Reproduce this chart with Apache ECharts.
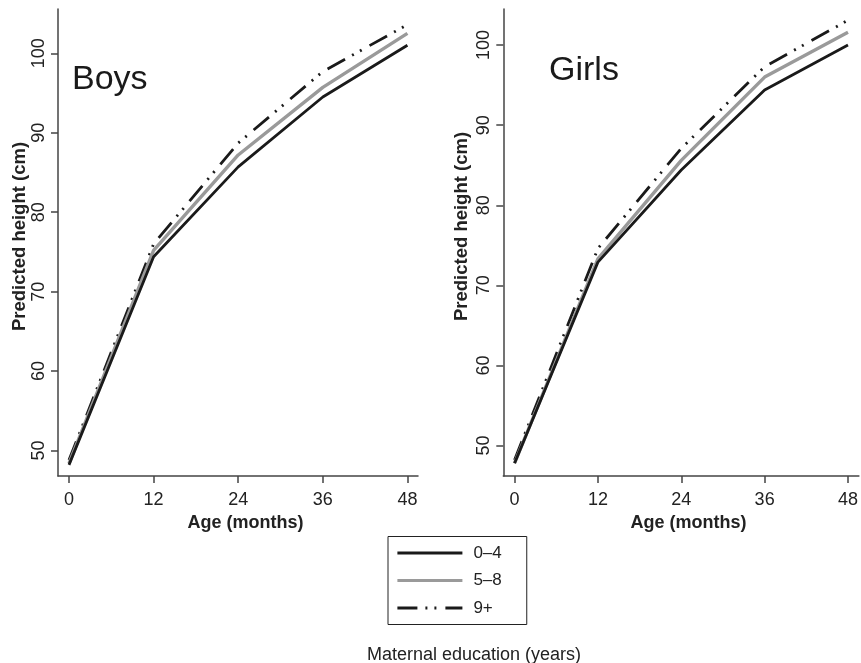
<!DOCTYPE html>
<html>
<head>
<meta charset="utf-8">
<script src="https://cdn.jsdelivr.net/npm/echarts@6/dist/echarts.min.js"></script>
<style>
html,body{margin:0;padding:0;background:#fff;}
#chart{width:861px;height:663px;}
</style>
</head>
<body>
<div id="chart"></div>
<script>
// ---- data ----
const ages = [0, 12, 24, 36, 48];
const xTicks = [0, 12, 24, 36, 48];
const yTicks = [50, 60, 70, 80, 90, 100];
const seriesNames = ['0\u20134', '5\u20138', '9+'];
const boys04 = [48.2, 74.4, 85.7, 94.5, 101.0];
const boys58 = [48.4, 75.2, 87.2, 95.7, 102.5];
const boys9p = [48.8, 76.0, 88.7, 97.7, 103.6];
const girls04 = [47.8, 72.9, 84.4, 94.4, 100.0];
const girls58 = [47.8, 73.3, 85.6, 96.0, 101.6];
const girls9p = [48.2, 74.6, 87.1, 97.3, 103.1];
const panelTitles = ['Boys', 'Girls'];
const xName = 'Age (months)';
const yName = 'Predicted height (cm)';
const legendTitle = 'Maternal education (years)';

const FONT = 'Liberation Sans, Arial, Helvetica, sans-serif';
const AX = '#444';
const TXT = '#222';

function pair(a) { return ages.map((x, i) => [x, a[i]]); }

const styles = [
  { color: '#1a1a1a', width: 2.8, type: 'solid' },
  { color: '#9a9a9a', width: 3.4, type: 'solid' },
  { color: '#1a1a1a', width: 2.8, type: [20, 8, 2, 7, 2, 9] }
];

function xAxis(idx, min, max) {
  return {
    type: 'value', gridIndex: idx, min: min, max: max,
    name: xName, nameLocation: 'middle', nameGap: 27,
    nameTextStyle: { fontFamily: FONT, fontSize: 18, fontWeight: 'bold', color: TXT, padding: [0, 0, 0, 15] },
    splitLine: { show: false },
    axisLine: { show: true, onZero: false, lineStyle: { color: AX, width: 1.5 } },
    axisTick: { show: true, length: 7, lineStyle: { color: AX, width: 1.5 }, customValues: xTicks },
    axisLabel: { fontFamily: FONT, fontSize: 18, color: TXT, margin: 15, customValues: xTicks }
  };
}
function yAxis(idx, min, max, gap, pad) {
  return {
    type: 'value', gridIndex: idx, min: min, max: max,
    name: yName, nameLocation: 'middle', nameGap: gap, nameRotate: 90,
    nameTextStyle: { fontFamily: FONT, fontSize: 18.5, fontWeight: 'bold', color: TXT, padding: [0, 0, 0, pad] },
    splitLine: { show: false },
    axisLine: { show: true, onZero: false, lineStyle: { color: AX, width: 1.5 } },
    axisTick: { show: true, length: 7, lineStyle: { color: AX, width: 1.5 }, customValues: yTicks },
    axisLabel: { fontFamily: FONT, fontSize: 18, color: TXT, rotate: 90, margin: 10, customValues: yTicks }
  };
}

const panels = [
  [boys04, boys58, boys9p],
  [girls04, girls58, girls9p]
];
const series = [];
panels.forEach((p, gi) => {
  p.forEach((d, si) => {
    series.push({
      name: seriesNames[si], type: 'line', xAxisIndex: gi, yAxisIndex: gi,
      data: pair(d), symbol: 'none', showSymbol: false, silent: true,
      lineStyle: styles[si], itemStyle: { color: styles[si].color },
      z: 3 - si
    });
  });
});

const chart = echarts.init(document.getElementById('chart'), null, { renderer: 'canvas' });
chart.setOption({
  animation: false,
  backgroundColor: '#fff',
  grid: [
    { left: 58, top: 9, width: 360, height: 467 },
    { left: 503.3, top: 9, width: 360, height: 467 }
  ],
  xAxis: [xAxis(0, -1.56, 49.5), xAxis(1, -1.62, 49.57)],
  yAxis: [yAxis(0, 46.8, 105.57, 28, 12), yAxis(1, 46.2, 104.5, 31.5, 32)],
  legend: {
    data: seriesNames, orient: 'vertical', left: 388, top: 536.5,
    itemWidth: 65, itemHeight: 17, itemGap: 10.5,
    padding: [8, 25, 8, 8],
    borderColor: '#222', borderWidth: 1, borderRadius: 0,
    selectedMode: false,
    itemStyle: { opacity: 0, borderWidth: 0 },
    lineStyle: { width: 2.8 },
    textStyle: { fontFamily: FONT, fontSize: 17, color: TXT, padding: [0, 0, 0, 6] }
  },
  graphic: [
    { type: 'text', left: 72, top: 63, style: { text: panelTitles[0], fontFamily: FONT, fontSize: 34, fill: '#1a1a1a' } },
    { type: 'text', left: 549, top: 54, style: { text: panelTitles[1], fontFamily: FONT, fontSize: 34, fill: '#1a1a1a' } },
    { type: 'text', left: 367, top: 646, style: { text: legendTitle, fontFamily: FONT, fontSize: 18, fill: TXT } }
  ],
  series: series
});
</script>
</body>
</html>
